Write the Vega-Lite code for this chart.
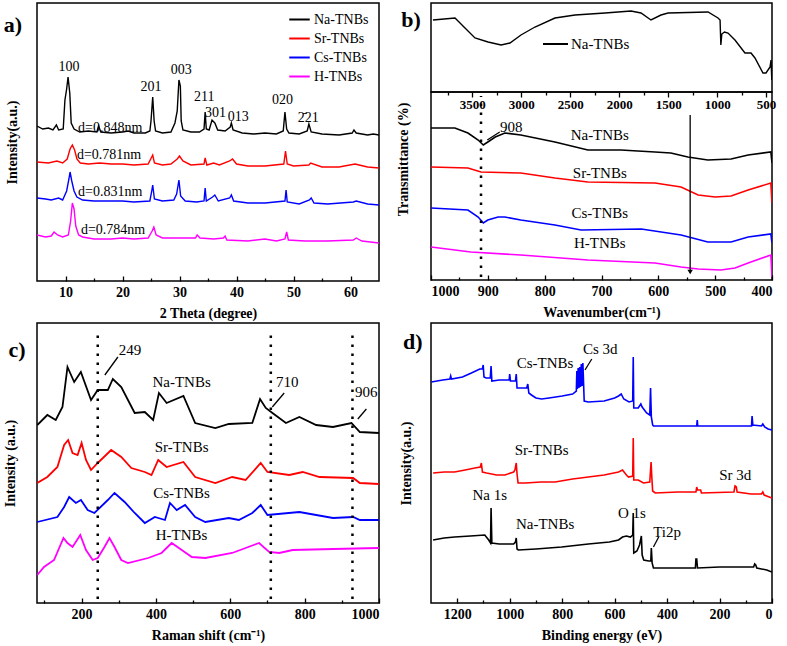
{
"$schema":"https://vega.github.io/schema/vega-lite/v6.json",
"padding":{"left":2,"top":2,"right":5,"bottom":5},
"background":"white",
"config":{
 "view":{"stroke":"black","strokeWidth":1.5},
 "font":"Liberation Serif",
 "axis":{"grid":false,"domain":false,"format":"d","labelFont":"Liberation Serif","labelFontSize":14,"labelFontWeight":"bold","labelColor":"black","titleFont":"Liberation Serif","titleFontSize":14,"titleFontWeight":"bold","titleColor":"black","tickColor":"black","tickWidth":1.3},
 "axisX":{"tickSize":-5,"labelPadding":9,"titlePadding":7},
 "axisY":{"labels":false,"ticks":false,"titlePadding":18},
 "text":{"font":"Liberation Serif","fontSize":14,"color":"black"},
 "legend":{"padding":0,"labelFont":"Liberation Serif","labelFontSize":14,"labelColor":"black"}
},
"datasets":{
"xrd":[
{"x":5,"y":155,"s":"Na-TNBs"},{"x":6,"y":152,"s":"Na-TNBs"},{"x":7,"y":153,"s":"Na-TNBs"},{"x":7.8,"y":151,"s":"Na-TNBs"},{"x":8.4,"y":156,"s":"Na-TNBs"},{"x":8.8,"y":151,"s":"Na-TNBs"},{"x":9.6,"y":152,"s":"Na-TNBs"},{"x":9.9,"y":181,"s":"Na-TNBs"},{"x":10.2,"y":192,"s":"Na-TNBs"},{"x":10.45,"y":204,"s":"Na-TNBs"},{"x":10.75,"y":188,"s":"Na-TNBs"},{"x":11.0,"y":158,"s":"Na-TNBs"},{"x":11.5,"y":152,"s":"Na-TNBs"},{"x":12.5,"y":149,"s":"Na-TNBs"},{"x":14,"y":150,"s":"Na-TNBs"},{"x":15.5,"y":149,"s":"Na-TNBs"},{"x":15.8,"y":155,"s":"Na-TNBs"},{"x":16.2,"y":149,"s":"Na-TNBs"},{"x":18,"y":148,"s":"Na-TNBs"},{"x":20,"y":149,"s":"Na-TNBs"},{"x":21,"y":150,"s":"Na-TNBs"},{"x":22,"y":148,"s":"Na-TNBs"},{"x":24,"y":148,"s":"Na-TNBs"},{"x":24.8,"y":150,"s":"Na-TNBs"},{"x":25.0,"y":160,"s":"Na-TNBs"},{"x":25.3,"y":184,"s":"Na-TNBs"},{"x":25.55,"y":160,"s":"Na-TNBs"},{"x":25.8,"y":150,"s":"Na-TNBs"},{"x":27,"y":148,"s":"Na-TNBs"},{"x":28.5,"y":149,"s":"Na-TNBs"},{"x":29.2,"y":158,"s":"Na-TNBs"},{"x":29.6,"y":170,"s":"Na-TNBs"},{"x":29.9,"y":201,"s":"Na-TNBs"},{"x":30.15,"y":195,"s":"Na-TNBs"},{"x":30.3,"y":160,"s":"Na-TNBs"},{"x":30.6,"y":151,"s":"Na-TNBs"},{"x":32,"y":149,"s":"Na-TNBs"},{"x":33.5,"y":149,"s":"Na-TNBs"},{"x":34.3,"y":152,"s":"Na-TNBs"},{"x":34.5,"y":169,"s":"Na-TNBs"},{"x":34.7,"y":152,"s":"Na-TNBs"},{"x":35.2,"y":151,"s":"Na-TNBs"},{"x":35.7,"y":161,"s":"Na-TNBs"},{"x":36.2,"y":158,"s":"Na-TNBs"},{"x":36.7,"y":151,"s":"Na-TNBs"},{"x":38,"y":150,"s":"Na-TNBs"},{"x":38.9,"y":154,"s":"Na-TNBs"},{"x":39.1,"y":158,"s":"Na-TNBs"},{"x":39.4,"y":151,"s":"Na-TNBs"},{"x":41,"y":148,"s":"Na-TNBs"},{"x":43,"y":147,"s":"Na-TNBs"},{"x":45,"y":148,"s":"Na-TNBs"},{"x":47,"y":147,"s":"Na-TNBs"},{"x":48.2,"y":150,"s":"Na-TNBs"},{"x":48.5,"y":169,"s":"Na-TNBs"},{"x":48.8,"y":152,"s":"Na-TNBs"},{"x":49.2,"y":148,"s":"Na-TNBs"},{"x":51,"y":147,"s":"Na-TNBs"},{"x":52.4,"y":150,"s":"Na-TNBs"},{"x":52.7,"y":157,"s":"Na-TNBs"},{"x":53.1,"y":149,"s":"Na-TNBs"},{"x":55,"y":147,"s":"Na-TNBs"},{"x":58,"y":146,"s":"Na-TNBs"},{"x":60.3,"y":148,"s":"Na-TNBs"},{"x":60.6,"y":151,"s":"Na-TNBs"},{"x":61,"y":148,"s":"Na-TNBs"},{"x":63,"y":146,"s":"Na-TNBs"},{"x":64,"y":147,"s":"Na-TNBs"},{"x":65,"y":146,"s":"Na-TNBs"},
{"x":5,"y":119,"s":"Sr-TNBs"},{"x":7,"y":118,"s":"Sr-TNBs"},{"x":8.5,"y":120,"s":"Sr-TNBs"},{"x":9.5,"y":118,"s":"Sr-TNBs"},{"x":10.3,"y":122,"s":"Sr-TNBs"},{"x":10.8,"y":132,"s":"Sr-TNBs"},{"x":11.2,"y":136,"s":"Sr-TNBs"},{"x":11.6,"y":131,"s":"Sr-TNBs"},{"x":12.0,"y":122,"s":"Sr-TNBs"},{"x":12.6,"y":118,"s":"Sr-TNBs"},{"x":14,"y":117,"s":"Sr-TNBs"},{"x":16,"y":118,"s":"Sr-TNBs"},{"x":18,"y":117,"s":"Sr-TNBs"},{"x":20,"y":117,"s":"Sr-TNBs"},{"x":22,"y":116,"s":"Sr-TNBs"},{"x":24.5,"y":117,"s":"Sr-TNBs"},{"x":25.3,"y":126,"s":"Sr-TNBs"},{"x":25.6,"y":118,"s":"Sr-TNBs"},{"x":27,"y":116,"s":"Sr-TNBs"},{"x":28.5,"y":117,"s":"Sr-TNBs"},{"x":29.6,"y":122,"s":"Sr-TNBs"},{"x":30.0,"y":125,"s":"Sr-TNBs"},{"x":30.6,"y":120,"s":"Sr-TNBs"},{"x":32,"y":116,"s":"Sr-TNBs"},{"x":34.3,"y":117,"s":"Sr-TNBs"},{"x":34.5,"y":123,"s":"Sr-TNBs"},{"x":34.8,"y":116,"s":"Sr-TNBs"},{"x":36,"y":118,"s":"Sr-TNBs"},{"x":37,"y":116,"s":"Sr-TNBs"},{"x":38.8,"y":120,"s":"Sr-TNBs"},{"x":39.3,"y":122,"s":"Sr-TNBs"},{"x":40,"y":117,"s":"Sr-TNBs"},{"x":42,"y":115,"s":"Sr-TNBs"},{"x":45,"y":115,"s":"Sr-TNBs"},{"x":48.3,"y":117,"s":"Sr-TNBs"},{"x":48.6,"y":130,"s":"Sr-TNBs"},{"x":48.9,"y":117,"s":"Sr-TNBs"},{"x":50,"y":115,"s":"Sr-TNBs"},{"x":52.7,"y":116,"s":"Sr-TNBs"},{"x":53,"y":118,"s":"Sr-TNBs"},{"x":55,"y":114,"s":"Sr-TNBs"},{"x":58,"y":114,"s":"Sr-TNBs"},{"x":60.8,"y":117,"s":"Sr-TNBs"},{"x":61.5,"y":116,"s":"Sr-TNBs"},{"x":63,"y":114,"s":"Sr-TNBs"},{"x":65,"y":113,"s":"Sr-TNBs"},
{"x":5,"y":83,"s":"Cs-TNBs"},{"x":6.5,"y":82,"s":"Cs-TNBs"},{"x":7.5,"y":81,"s":"Cs-TNBs"},{"x":8.8,"y":83,"s":"Cs-TNBs"},{"x":9.5,"y":81,"s":"Cs-TNBs"},{"x":10.2,"y":90,"s":"Cs-TNBs"},{"x":10.6,"y":102,"s":"Cs-TNBs"},{"x":10.8,"y":109,"s":"Cs-TNBs"},{"x":11.1,"y":100,"s":"Cs-TNBs"},{"x":11.5,"y":90,"s":"Cs-TNBs"},{"x":12,"y":84,"s":"Cs-TNBs"},{"x":13,"y":81,"s":"Cs-TNBs"},{"x":15,"y":80,"s":"Cs-TNBs"},{"x":18,"y":80,"s":"Cs-TNBs"},{"x":20,"y":80,"s":"Cs-TNBs"},{"x":22,"y":79,"s":"Cs-TNBs"},{"x":24.8,"y":80,"s":"Cs-TNBs"},{"x":25.1,"y":89,"s":"Cs-TNBs"},{"x":25.3,"y":96,"s":"Cs-TNBs"},{"x":25.6,"y":82,"s":"Cs-TNBs"},{"x":27,"y":80,"s":"Cs-TNBs"},{"x":29,"y":81,"s":"Cs-TNBs"},{"x":29.5,"y":87,"s":"Cs-TNBs"},{"x":29.9,"y":101,"s":"Cs-TNBs"},{"x":30.2,"y":85,"s":"Cs-TNBs"},{"x":31,"y":80,"s":"Cs-TNBs"},{"x":33,"y":79,"s":"Cs-TNBs"},{"x":34.3,"y":80,"s":"Cs-TNBs"},{"x":34.5,"y":93,"s":"Cs-TNBs"},{"x":34.7,"y":80,"s":"Cs-TNBs"},{"x":35.8,"y":84,"s":"Cs-TNBs"},{"x":36.2,"y":86,"s":"Cs-TNBs"},{"x":36.8,"y":80,"s":"Cs-TNBs"},{"x":38.8,"y":83,"s":"Cs-TNBs"},{"x":39.1,"y":86,"s":"Cs-TNBs"},{"x":39.5,"y":80,"s":"Cs-TNBs"},{"x":42,"y":78,"s":"Cs-TNBs"},{"x":45,"y":78,"s":"Cs-TNBs"},{"x":48.5,"y":80,"s":"Cs-TNBs"},{"x":48.7,"y":91,"s":"Cs-TNBs"},{"x":48.9,"y":79,"s":"Cs-TNBs"},{"x":51,"y":77,"s":"Cs-TNBs"},{"x":52.8,"y":81,"s":"Cs-TNBs"},{"x":53.1,"y":83,"s":"Cs-TNBs"},{"x":53.6,"y":78,"s":"Cs-TNBs"},{"x":56,"y":77,"s":"Cs-TNBs"},{"x":60.5,"y":79,"s":"Cs-TNBs"},{"x":61,"y":80,"s":"Cs-TNBs"},{"x":63,"y":77,"s":"Cs-TNBs"},{"x":65,"y":76,"s":"Cs-TNBs"},
{"x":5,"y":46,"s":"H-TNBs"},{"x":6.5,"y":44,"s":"H-TNBs"},{"x":7.5,"y":45,"s":"H-TNBs"},{"x":8.0,"y":49,"s":"H-TNBs"},{"x":8.6,"y":46,"s":"H-TNBs"},{"x":9.5,"y":44,"s":"H-TNBs"},{"x":10.5,"y":46,"s":"H-TNBs"},{"x":10.9,"y":60,"s":"H-TNBs"},{"x":11.2,"y":78,"s":"H-TNBs"},{"x":11.5,"y":72,"s":"H-TNBs"},{"x":11.8,"y":55,"s":"H-TNBs"},{"x":12.3,"y":46,"s":"H-TNBs"},{"x":13,"y":44,"s":"H-TNBs"},{"x":15,"y":42,"s":"H-TNBs"},{"x":18,"y":42,"s":"H-TNBs"},{"x":20,"y":43,"s":"H-TNBs"},{"x":22,"y":42,"s":"H-TNBs"},{"x":24.5,"y":43,"s":"H-TNBs"},{"x":25.2,"y":50,"s":"H-TNBs"},{"x":25.5,"y":54,"s":"H-TNBs"},{"x":25.9,"y":46,"s":"H-TNBs"},{"x":27,"y":43,"s":"H-TNBs"},{"x":30,"y":43,"s":"H-TNBs"},{"x":32.8,"y":43,"s":"H-TNBs"},{"x":33.1,"y":46,"s":"H-TNBs"},{"x":33.6,"y":43,"s":"H-TNBs"},{"x":36,"y":42,"s":"H-TNBs"},{"x":37.7,"y":43,"s":"H-TNBs"},{"x":38,"y":45,"s":"H-TNBs"},{"x":38.3,"y":41,"s":"H-TNBs"},{"x":42,"y":40,"s":"H-TNBs"},{"x":45,"y":42,"s":"H-TNBs"},{"x":47,"y":40,"s":"H-TNBs"},{"x":48.5,"y":42,"s":"H-TNBs"},{"x":48.8,"y":49,"s":"H-TNBs"},{"x":49.1,"y":41,"s":"H-TNBs"},{"x":52,"y":40,"s":"H-TNBs"},{"x":56,"y":40,"s":"H-TNBs"},{"x":60.5,"y":41,"s":"H-TNBs"},{"x":61,"y":43,"s":"H-TNBs"},{"x":62,"y":40,"s":"H-TNBs"},{"x":65,"y":38,"s":"H-TNBs"}
],
"xrd_txt":[
{"x":10.62,"y":214,"t":"100","k":"c"},{"x":25.0,"y":194,"t":"201","k":"c"},{"x":30.3,"y":211,"t":"003","k":"c"},{"x":34.35,"y":184,"t":"211","k":"c"},{"x":36.3,"y":168,"t":"301","k":"c"},{"x":40.3,"y":164,"t":"013","k":"c"},{"x":48.06,"y":181,"t":"020","k":"c"},{"x":52.6,"y":163,"t":"2̄21","k":"c"},
{"x":12.2,"y":153,"t":"d=0.848nm","k":"l"},{"x":12.0,"y":126,"t":"d=0.781nm","k":"l"},{"x":12.2,"y":89,"t":"d=0.831nm","k":"l"},{"x":12.7,"y":51,"t":"d=0.784nm","k":"l"},
{"x":0.78,"y":256,"t":"a)","k":"p"}
],
"ftir_inset":[
{"x":3900,"y":72},{"x":3675,"y":74},{"x":3573,"y":64},{"x":3471,"y":54},{"x":3338,"y":50},{"x":3205,"y":47},{"x":3114,"y":49},{"x":3002,"y":57},{"x":2859,"y":65},{"x":2655,"y":74},{"x":2450,"y":77},{"x":2144,"y":79},{"x":1879,"y":81},{"x":1777,"y":79},{"x":1675,"y":72},{"x":1573,"y":77},{"x":1501,"y":79},{"x":1093,"y":80},{"x":991,"y":74},{"x":970,"y":72},{"x":962,"y":47},{"x":952,"y":58},{"x":925,"y":60},{"x":889,"y":59},{"x":818,"y":52},{"x":716,"y":39},{"x":654,"y":39},{"x":614,"y":34},{"x":532,"y":19},{"x":501,"y":19},{"x":460,"y":25},{"x":450,"y":32},{"x":442,"y":12}
],
"ftir_inset_txt":[{"x":4124,"y":72,"t":"b)","k":"p"},{"x":2491,"y":48,"t":"Na-TNBs","k":"l"}],
"ftir_inset_lines":[{"x":2777,"y":48,"x2":2522,"y2":48}],
"ftir":[
{"x":1000,"y":152,"s":"Na-TNBs"},{"x":958,"y":152,"s":"Na-TNBs"},{"x":935,"y":147,"s":"Na-TNBs"},{"x":917,"y":140,"s":"Na-TNBs"},{"x":908,"y":135,"s":"Na-TNBs"},{"x":900,"y":138,"s":"Na-TNBs"},{"x":887,"y":143,"s":"Na-TNBs"},{"x":870,"y":147,"s":"Na-TNBs"},{"x":842,"y":145,"s":"Na-TNBs"},{"x":782,"y":138,"s":"Na-TNBs"},{"x":724,"y":130,"s":"Na-TNBs"},{"x":666,"y":130,"s":"Na-TNBs"},{"x":606,"y":128,"s":"Na-TNBs"},{"x":578,"y":127,"s":"Na-TNBs"},{"x":548,"y":123,"s":"Na-TNBs"},{"x":513,"y":120,"s":"Na-TNBs"},{"x":472,"y":121,"s":"Na-TNBs"},{"x":442,"y":125,"s":"Na-TNBs"},{"x":402,"y":128,"s":"Na-TNBs"},{"x":400,"y":117,"s":"Na-TNBs"},
{"x":1000,"y":113,"s":"Sr-TNBs"},{"x":935,"y":112,"s":"Sr-TNBs"},{"x":912,"y":108,"s":"Sr-TNBs"},{"x":842,"y":107,"s":"Sr-TNBs"},{"x":782,"y":102,"s":"Sr-TNBs"},{"x":724,"y":98,"s":"Sr-TNBs"},{"x":606,"y":97,"s":"Sr-TNBs"},{"x":560,"y":93,"s":"Sr-TNBs"},{"x":530,"y":85,"s":"Sr-TNBs"},{"x":500,"y":83,"s":"Sr-TNBs"},{"x":472,"y":84,"s":"Sr-TNBs"},{"x":442,"y":90,"s":"Sr-TNBs"},{"x":402,"y":97,"s":"Sr-TNBs"},{"x":400,"y":77,"s":"Sr-TNBs"},
{"x":1000,"y":72,"s":"Cs-TNBs"},{"x":935,"y":70,"s":"Cs-TNBs"},{"x":917,"y":63,"s":"Cs-TNBs"},{"x":908,"y":57,"s":"Cs-TNBs"},{"x":900,"y":60,"s":"Cs-TNBs"},{"x":882,"y":63,"s":"Cs-TNBs"},{"x":870,"y":63,"s":"Cs-TNBs"},{"x":842,"y":60,"s":"Cs-TNBs"},{"x":782,"y":55,"s":"Cs-TNBs"},{"x":736,"y":50,"s":"Cs-TNBs"},{"x":630,"y":51,"s":"Cs-TNBs"},{"x":560,"y":45,"s":"Cs-TNBs"},{"x":513,"y":38,"s":"Cs-TNBs"},{"x":472,"y":38,"s":"Cs-TNBs"},{"x":442,"y":43,"s":"Cs-TNBs"},{"x":402,"y":46,"s":"Cs-TNBs"},{"x":400,"y":37,"s":"Cs-TNBs"},
{"x":1000,"y":33,"s":"H-TNBs"},{"x":930,"y":28,"s":"H-TNBs"},{"x":842,"y":25,"s":"H-TNBs"},{"x":724,"y":20,"s":"H-TNBs"},{"x":606,"y":17,"s":"H-TNBs"},{"x":560,"y":13,"s":"H-TNBs"},{"x":530,"y":11,"s":"H-TNBs"},{"x":490,"y":10,"s":"H-TNBs"},{"x":465,"y":12,"s":"H-TNBs"},{"x":442,"y":17,"s":"H-TNBs"},{"x":402,"y":25,"s":"H-TNBs"},{"x":400,"y":3,"s":"H-TNBs"}
],
"ftir_txt":[{"x":859,"y":153,"t":"908"},{"x":703,"y":145,"t":"Na-TNBs"},{"x":703,"y":107,"t":"Sr-TNBs"},{"x":703,"y":67,"t":"Cs-TNBs"},{"x":703,"y":37,"t":"H-TNBs"}],
"ftir_lines":[{"x":912,"y":3,"x2":912,"y2":184,"k":"dot"},{"x":544,"y":165,"x2":544,"y2":8,"k":"arrow"},{"x":901,"y":140,"x2":879,"y2":148,"k":"arrow"}],
"ftir_pts":[{"x":544,"y":8}],
"raman":[
{"x":80.7,"y":178,"s":"Na-TNBs"},{"x":107.8,"y":188,"s":"Na-TNBs"},{"x":130.4,"y":183,"s":"Na-TNBs"},{"x":148.5,"y":196,"s":"Na-TNBs"},{"x":162,"y":236,"s":"Na-TNBs"},{"x":180,"y":221,"s":"Na-TNBs"},{"x":198,"y":231,"s":"Na-TNBs"},{"x":225.3,"y":203,"s":"Na-TNBs"},{"x":243.4,"y":213,"s":"Na-TNBs"},{"x":270.5,"y":213,"s":"Na-TNBs"},{"x":284,"y":224,"s":"Na-TNBs"},{"x":306.7,"y":216,"s":"Na-TNBs"},{"x":342.8,"y":190,"s":"Na-TNBs"},{"x":370,"y":191,"s":"Na-TNBs"},{"x":392.5,"y":183,"s":"Na-TNBs"},{"x":408,"y":210,"s":"Na-TNBs"},{"x":428.7,"y":200,"s":"Na-TNBs"},{"x":473.9,"y":207,"s":"Na-TNBs"},{"x":505.5,"y":180,"s":"Na-TNBs"},{"x":559.8,"y":175,"s":"Na-TNBs"},{"x":595.9,"y":179,"s":"Na-TNBs"},{"x":659.2,"y":180,"s":"Na-TNBs"},{"x":680,"y":204,"s":"Na-TNBs"},{"x":695.4,"y":195,"s":"Na-TNBs"},{"x":713.4,"y":190,"s":"Na-TNBs"},{"x":749.6,"y":180,"s":"Na-TNBs"},{"x":785.8,"y":186,"s":"Na-TNBs"},{"x":831,"y":178,"s":"Na-TNBs"},{"x":876.2,"y":176,"s":"Na-TNBs"},{"x":925.9,"y":180,"s":"Na-TNBs"},{"x":948.5,"y":171,"s":"Na-TNBs"},{"x":1000,"y":170,"s":"Na-TNBs"},
{"x":80.7,"y":120,"s":"Sr-TNBs"},{"x":107.8,"y":126,"s":"Sr-TNBs"},{"x":134.9,"y":136,"s":"Sr-TNBs"},{"x":153,"y":158,"s":"Sr-TNBs"},{"x":163.8,"y":163,"s":"Sr-TNBs"},{"x":175.6,"y":150,"s":"Sr-TNBs"},{"x":189.2,"y":148,"s":"Sr-TNBs"},{"x":200,"y":160,"s":"Sr-TNBs"},{"x":211.8,"y":143,"s":"Sr-TNBs"},{"x":225.3,"y":133,"s":"Sr-TNBs"},{"x":243.4,"y":140,"s":"Sr-TNBs"},{"x":279.5,"y":153,"s":"Sr-TNBs"},{"x":306.7,"y":146,"s":"Sr-TNBs"},{"x":333.8,"y":135,"s":"Sr-TNBs"},{"x":370,"y":131,"s":"Sr-TNBs"},{"x":388,"y":128,"s":"Sr-TNBs"},{"x":406.1,"y":143,"s":"Sr-TNBs"},{"x":428.7,"y":136,"s":"Sr-TNBs"},{"x":473.9,"y":141,"s":"Sr-TNBs"},{"x":505.5,"y":126,"s":"Sr-TNBs"},{"x":559.8,"y":120,"s":"Sr-TNBs"},{"x":605,"y":126,"s":"Sr-TNBs"},{"x":641.1,"y":123,"s":"Sr-TNBs"},{"x":681.8,"y":140,"s":"Sr-TNBs"},{"x":699.9,"y":131,"s":"Sr-TNBs"},{"x":758.6,"y":128,"s":"Sr-TNBs"},{"x":794.8,"y":131,"s":"Sr-TNBs"},{"x":840,"y":126,"s":"Sr-TNBs"},{"x":930.4,"y":125,"s":"Sr-TNBs"},{"x":948.5,"y":120,"s":"Sr-TNBs"},{"x":1000,"y":119,"s":"Sr-TNBs"},
{"x":80.7,"y":81,"s":"Cs-TNBs"},{"x":134.9,"y":86,"s":"Cs-TNBs"},{"x":153,"y":96,"s":"Cs-TNBs"},{"x":166.6,"y":106,"s":"Cs-TNBs"},{"x":184.6,"y":100,"s":"Cs-TNBs"},{"x":198.2,"y":103,"s":"Cs-TNBs"},{"x":216.3,"y":93,"s":"Cs-TNBs"},{"x":234.4,"y":90,"s":"Cs-TNBs"},{"x":270.5,"y":103,"s":"Cs-TNBs"},{"x":288.6,"y":110,"s":"Cs-TNBs"},{"x":315.7,"y":101,"s":"Cs-TNBs"},{"x":342.8,"y":90,"s":"Cs-TNBs"},{"x":370,"y":80,"s":"Cs-TNBs"},{"x":397,"y":86,"s":"Cs-TNBs"},{"x":424.2,"y":83,"s":"Cs-TNBs"},{"x":437.7,"y":100,"s":"Cs-TNBs"},{"x":455.8,"y":93,"s":"Cs-TNBs"},{"x":478.4,"y":98,"s":"Cs-TNBs"},{"x":505.5,"y":86,"s":"Cs-TNBs"},{"x":532.7,"y":81,"s":"Cs-TNBs"},{"x":595.9,"y":85,"s":"Cs-TNBs"},{"x":623,"y":83,"s":"Cs-TNBs"},{"x":659.2,"y":90,"s":"Cs-TNBs"},{"x":681.8,"y":98,"s":"Cs-TNBs"},{"x":699.9,"y":88,"s":"Cs-TNBs"},{"x":785.8,"y":91,"s":"Cs-TNBs"},{"x":876.2,"y":85,"s":"Cs-TNBs"},{"x":930.4,"y":86,"s":"Cs-TNBs"},{"x":948.5,"y":83,"s":"Cs-TNBs"},{"x":1000,"y":83,"s":"Cs-TNBs"},
{"x":80.7,"y":28,"s":"H-TNBs"},{"x":98.8,"y":36,"s":"H-TNBs"},{"x":125.9,"y":43,"s":"H-TNBs"},{"x":151.2,"y":65,"s":"H-TNBs"},{"x":162,"y":60,"s":"H-TNBs"},{"x":175.6,"y":56,"s":"H-TNBs"},{"x":196.4,"y":68,"s":"H-TNBs"},{"x":211.8,"y":53,"s":"H-TNBs"},{"x":229.8,"y":43,"s":"H-TNBs"},{"x":243.4,"y":45,"s":"H-TNBs"},{"x":261.5,"y":56,"s":"H-TNBs"},{"x":275,"y":65,"s":"H-TNBs"},{"x":288.6,"y":56,"s":"H-TNBs"},{"x":306.7,"y":43,"s":"H-TNBs"},{"x":324.7,"y":40,"s":"H-TNBs"},{"x":379,"y":45,"s":"H-TNBs"},{"x":415.1,"y":50,"s":"H-TNBs"},{"x":442.3,"y":60,"s":"H-TNBs"},{"x":469.4,"y":53,"s":"H-TNBs"},{"x":496.5,"y":46,"s":"H-TNBs"},{"x":532.7,"y":45,"s":"H-TNBs"},{"x":605,"y":50,"s":"H-TNBs"},{"x":641.1,"y":55,"s":"H-TNBs"},{"x":677.3,"y":60,"s":"H-TNBs"},{"x":704.4,"y":51,"s":"H-TNBs"},{"x":731.5,"y":50,"s":"H-TNBs"},{"x":767.7,"y":53,"s":"H-TNBs"},{"x":876.2,"y":54,"s":"H-TNBs"},{"x":1000,"y":55,"s":"H-TNBs"}
],
"raman_txt":[{"x":469,"y":221,"t":"Na-TNBs","k":"c"},{"x":469,"y":156,"t":"Sr-TNBs","k":"c"},{"x":469,"y":110,"t":"Cs-TNBs","k":"c"},{"x":469,"y":68,"t":"H-TNBs","k":"c"},{"x":330,"y":253,"t":"249","k":"c"},{"x":753,"y":221,"t":"710","k":"c"},{"x":966,"y":211,"t":"906","k":"c"},{"x":26,"y":253,"t":"c)","k":"p"}],
"raman_lines":[{"x":243.4,"y":4,"x2":243.4,"y2":273,"k":"dot"},{"x":709,"y":4,"x2":709,"y2":273,"k":"dot"},{"x":928.6,"y":4,"x2":928.6,"y2":273,"k":"dot"},{"x":262.5,"y":228,"x2":297.6,"y2":246,"k":"arrow"},{"x":713,"y":196,"x2":745,"y2":210,"k":"arrow"},{"x":943,"y":184,"x2":966,"y2":194,"k":"arrow"}],
"xps":[
{"x":1299,"y":221,"s":"Cs-TNBs"},{"x":1255,"y":223,"s":"Cs-TNBs"},{"x":1228,"y":224,"s":"Cs-TNBs"},{"x":1225,"y":227,"s":"Cs-TNBs"},{"x":1222,"y":224,"s":"Cs-TNBs"},{"x":1180,"y":226,"s":"Cs-TNBs"},{"x":1146,"y":230,"s":"Cs-TNBs"},{"x":1114,"y":234,"s":"Cs-TNBs"},{"x":1104,"y":234,"s":"Cs-TNBs"},{"x":1101,"y":238,"s":"Cs-TNBs"},{"x":1098,"y":226,"s":"Cs-TNBs"},{"x":1090,"y":225,"s":"Cs-TNBs"},{"x":1074,"y":225,"s":"Cs-TNBs"},{"x":1071,"y":237,"s":"Cs-TNBs"},{"x":1068,"y":222,"s":"Cs-TNBs"},{"x":1040,"y":223,"s":"Cs-TNBs"},{"x":1002,"y":223,"s":"Cs-TNBs"},{"x":1000,"y":229,"s":"Cs-TNBs"},{"x":997,"y":222,"s":"Cs-TNBs"},{"x":978,"y":222,"s":"Cs-TNBs"},{"x":975,"y":229,"s":"Cs-TNBs"},{"x":972,"y":215,"s":"Cs-TNBs"},{"x":935,"y":215,"s":"Cs-TNBs"},{"x":931,"y":219,"s":"Cs-TNBs"},{"x":927,"y":210,"s":"Cs-TNBs"},{"x":917,"y":208,"s":"Cs-TNBs"},{"x":900,"y":205,"s":"Cs-TNBs"},{"x":878,"y":204,"s":"Cs-TNBs"},{"x":850,"y":205,"s":"Cs-TNBs"},{"x":800,"y":207,"s":"Cs-TNBs"},{"x":760,"y":209,"s":"Cs-TNBs"},{"x":746,"y":212,"s":"Cs-TNBs"},{"x":744,"y":232,"s":"Cs-TNBs"},{"x":742,"y":214,"s":"Cs-TNBs"},{"x":739,"y":235,"s":"Cs-TNBs"},{"x":736,"y":215,"s":"Cs-TNBs"},{"x":733,"y":236,"s":"Cs-TNBs"},{"x":730,"y":216,"s":"Cs-TNBs"},{"x":727,"y":239,"s":"Cs-TNBs"},{"x":724,"y":217,"s":"Cs-TNBs"},{"x":721,"y":240,"s":"Cs-TNBs"},{"x":716,"y":202,"s":"Cs-TNBs"},{"x":700,"y":201,"s":"Cs-TNBs"},{"x":640,"y":202,"s":"Cs-TNBs"},{"x":600,"y":205,"s":"Cs-TNBs"},{"x":585,"y":207,"s":"Cs-TNBs"},{"x":575,"y":209,"s":"Cs-TNBs"},{"x":565,"y":204,"s":"Cs-TNBs"},{"x":545,"y":201,"s":"Cs-TNBs"},{"x":531,"y":202,"s":"Cs-TNBs"},{"x":529,"y":246,"s":"Cs-TNBs"},{"x":527,"y":195,"s":"Cs-TNBs"},{"x":510,"y":195,"s":"Cs-TNBs"},{"x":500,"y":199,"s":"Cs-TNBs"},{"x":495,"y":196,"s":"Cs-TNBs"},{"x":478,"y":190,"s":"Cs-TNBs"},{"x":466,"y":188,"s":"Cs-TNBs"},{"x":463,"y":215,"s":"Cs-TNBs"},{"x":460,"y":186,"s":"Cs-TNBs"},{"x":455,"y":178,"s":"Cs-TNBs"},{"x":452,"y":177,"s":"Cs-TNBs"},{"x":287,"y":177,"s":"Cs-TNBs"},{"x":285,"y":183,"s":"Cs-TNBs"},{"x":283,"y":177,"s":"Cs-TNBs"},{"x":78,"y":177,"s":"Cs-TNBs"},{"x":76,"y":187,"s":"Cs-TNBs"},{"x":73,"y":178,"s":"Cs-TNBs"},{"x":40,"y":177,"s":"Cs-TNBs"},{"x":35,"y":179,"s":"Cs-TNBs"},{"x":28,"y":176,"s":"Cs-TNBs"},{"x":15,"y":174,"s":"Cs-TNBs"},{"x":0,"y":173,"s":"Cs-TNBs"},
{"x":1292,"y":130,"s":"Sr-TNBs"},{"x":1250,"y":131,"s":"Sr-TNBs"},{"x":1210,"y":131,"s":"Sr-TNBs"},{"x":1170,"y":133,"s":"Sr-TNBs"},{"x":1133,"y":135,"s":"Sr-TNBs"},{"x":1112,"y":136,"s":"Sr-TNBs"},{"x":1108,"y":140,"s":"Sr-TNBs"},{"x":1104,"y":131,"s":"Sr-TNBs"},{"x":1088,"y":130,"s":"Sr-TNBs"},{"x":1050,"y":128,"s":"Sr-TNBs"},{"x":1018,"y":128,"s":"Sr-TNBs"},{"x":985,"y":131,"s":"Sr-TNBs"},{"x":980,"y":133,"s":"Sr-TNBs"},{"x":975,"y":140,"s":"Sr-TNBs"},{"x":972,"y":129,"s":"Sr-TNBs"},{"x":968,"y":120,"s":"Sr-TNBs"},{"x":940,"y":120,"s":"Sr-TNBs"},{"x":880,"y":121,"s":"Sr-TNBs"},{"x":827,"y":121,"s":"Sr-TNBs"},{"x":760,"y":124,"s":"Sr-TNBs"},{"x":700,"y":126,"s":"Sr-TNBs"},{"x":640,"y":128,"s":"Sr-TNBs"},{"x":585,"y":131,"s":"Sr-TNBs"},{"x":570,"y":133,"s":"Sr-TNBs"},{"x":555,"y":128,"s":"Sr-TNBs"},{"x":547,"y":126,"s":"Sr-TNBs"},{"x":531,"y":127,"s":"Sr-TNBs"},{"x":529,"y":165,"s":"Sr-TNBs"},{"x":527,"y":123,"s":"Sr-TNBs"},{"x":510,"y":123,"s":"Sr-TNBs"},{"x":490,"y":120,"s":"Sr-TNBs"},{"x":466,"y":121,"s":"Sr-TNBs"},{"x":461,"y":141,"s":"Sr-TNBs"},{"x":458,"y":125,"s":"Sr-TNBs"},{"x":455,"y":112,"s":"Sr-TNBs"},{"x":445,"y":110,"s":"Sr-TNBs"},{"x":360,"y":111,"s":"Sr-TNBs"},{"x":290,"y":111,"s":"Sr-TNBs"},{"x":287,"y":116,"s":"Sr-TNBs"},{"x":284,"y":113,"s":"Sr-TNBs"},{"x":272,"y":113,"s":"Sr-TNBs"},{"x":269,"y":110,"s":"Sr-TNBs"},{"x":145,"y":111,"s":"Sr-TNBs"},{"x":141,"y":117,"s":"Sr-TNBs"},{"x":136,"y":116,"s":"Sr-TNBs"},{"x":133,"y":111,"s":"Sr-TNBs"},{"x":80,"y":109,"s":"Sr-TNBs"},{"x":40,"y":109,"s":"Sr-TNBs"},{"x":35,"y":111,"s":"Sr-TNBs"},{"x":30,"y":108,"s":"Sr-TNBs"},{"x":0,"y":105,"s":"Sr-TNBs"},
{"x":1292,"y":63,"s":"Na-TNBs"},{"x":1250,"y":65,"s":"Na-TNBs"},{"x":1210,"y":66,"s":"Na-TNBs"},{"x":1150,"y":67,"s":"Na-TNBs"},{"x":1095,"y":68,"s":"Na-TNBs"},{"x":1080,"y":63,"s":"Na-TNBs"},{"x":1073,"y":60,"s":"Na-TNBs"},{"x":1071,"y":95,"s":"Na-TNBs"},{"x":1068,"y":60,"s":"Na-TNBs"},{"x":1040,"y":59,"s":"Na-TNBs"},{"x":985,"y":59,"s":"Na-TNBs"},{"x":978,"y":61,"s":"Na-TNBs"},{"x":975,"y":65,"s":"Na-TNBs"},{"x":972,"y":54,"s":"Na-TNBs"},{"x":967,"y":53,"s":"Na-TNBs"},{"x":900,"y":54,"s":"Na-TNBs"},{"x":802,"y":56,"s":"Na-TNBs"},{"x":700,"y":59,"s":"Na-TNBs"},{"x":620,"y":61,"s":"Na-TNBs"},{"x":585,"y":63,"s":"Na-TNBs"},{"x":570,"y":66,"s":"Na-TNBs"},{"x":555,"y":67,"s":"Na-TNBs"},{"x":540,"y":66,"s":"Na-TNBs"},{"x":531,"y":68,"s":"Na-TNBs"},{"x":529,"y":90,"s":"Na-TNBs"},{"x":527,"y":50,"s":"Na-TNBs"},{"x":515,"y":52,"s":"Na-TNBs"},{"x":505,"y":58,"s":"Na-TNBs"},{"x":498,"y":67,"s":"Na-TNBs"},{"x":495,"y":48,"s":"Na-TNBs"},{"x":489,"y":43,"s":"Na-TNBs"},{"x":470,"y":42,"s":"Na-TNBs"},{"x":462,"y":42,"s":"Na-TNBs"},{"x":460,"y":55,"s":"Na-TNBs"},{"x":457,"y":40,"s":"Na-TNBs"},{"x":452,"y":35,"s":"Na-TNBs"},{"x":300,"y":35,"s":"Na-TNBs"},{"x":292,"y":35,"s":"Na-TNBs"},{"x":290,"y":44,"s":"Na-TNBs"},{"x":287,"y":44,"s":"Na-TNBs"},{"x":284,"y":35,"s":"Na-TNBs"},{"x":200,"y":36,"s":"Na-TNBs"},{"x":70,"y":36,"s":"Na-TNBs"},{"x":66,"y":39,"s":"Na-TNBs"},{"x":62,"y":38,"s":"Na-TNBs"},{"x":58,"y":35,"s":"Na-TNBs"},{"x":20,"y":33,"s":"Na-TNBs"},{"x":0,"y":31,"s":"Na-TNBs"}
],
"xps_txt":[{"x":865,"y":240,"t":"Cs-TNBs","k":"c"},{"x":655,"y":254,"t":"Cs 3d","k":"c"},{"x":878,"y":153,"t":"Sr-TNBs","k":"c"},{"x":140,"y":128,"t":"Sr 3d","k":"c"},{"x":1076,"y":108,"t":"Na 1s","k":"c"},{"x":865,"y":79,"t":"Na-TNBs","k":"c"},{"x":534,"y":90,"t":"O 1s","k":"c"},{"x":400,"y":71,"t":"Ti2p","k":"c"},{"x":1369,"y":261,"t":"d)","k":"p"}],
"xps_lines":[{"x":713,"y":233,"x2":687,"y2":244},{"x":452,"y":56,"x2":432,"y2":66}]
},
"columns":2,
"spacing":{"row":42,"column":52},
"bounds":"flush",
"resolve":{"legend":{"color":"independent"}},
"concat":[
{
 "width":342,"height":278,
 "resolve":{"axis":{"x":"independent"}},
 "layer":[
  {"data":{"name":"xrd"},"mark":{"type":"line","strokeWidth":1.4,"clip":true},
   "encoding":{
    "x":{"field":"x","type":"quantitative","scale":{"domain":[5,65],"nice":false,"zero":false},"axis":{"orient":"bottom","title":"2 Theta (degree)","values":[10,20,30,40,50,60]}},
    "y":{"field":"y","type":"quantitative","scale":{"domain":[0,278],"nice":false,"zero":false},"axis":{"title":"Intensity(a.u.)"}},
    "color":{"field":"s","type":"nominal","scale":{"domain":["Na-TNBs","Sr-TNBs","Cs-TNBs","H-TNBs"],"range":["#000000","#ff0000","#0000ff","#ff00ff"]},
     "legend":{"orient":"none","legendX":251,"legendY":5,"title":null,"symbolType":"stroke","symbolSize":420,"symbolStrokeWidth":2,"rowPadding":0,"labelOffset":3}}
   }},
  {"data":{"name":"xrd_txt"},"transform":[{"filter":"datum.k=='c'"}],"mark":{"type":"text","fontSize":14},
   "encoding":{"x":{"field":"x","type":"quantitative","axis":{"orient":"bottom","title":null,"labels":false,"tickSize":-3,"values":[15,25,35,45,55]}},"y":{"field":"y","type":"quantitative"},"text":{"field":"t"}}},
  {"data":{"name":"xrd_txt"},"transform":[{"filter":"datum.k=='l'"}],"mark":{"type":"text","fontSize":14,"align":"left"},
   "encoding":{"x":{"field":"x","type":"quantitative","axis":null},"y":{"field":"y","type":"quantitative"},"text":{"field":"t"}}},
  {"data":{"name":"xrd_txt"},"transform":[{"filter":"datum.k=='p'"}],"mark":{"type":"text","fontSize":22,"fontWeight":"bold"},
   "encoding":{"x":{"field":"x","type":"quantitative","axis":null},"y":{"field":"y","type":"quantitative"},"text":{"field":"t"}}}
 ]
},
{
 "vconcat":[
  {
   "width":341,"height":89,
   "resolve":{"axis":{"x":"independent"}},
   "layer":[
    {"data":{"name":"ftir_inset"},"mark":{"type":"line","strokeWidth":1.4,"color":"black","clip":true},
     "encoding":{
      "x":{"field":"x","type":"quantitative","scale":{"domain":[440,3920],"reverse":true,"nice":false,"zero":false},"axis":{"orient":"bottom","title":null,"values":[3500,3000,2500,2000,1500,1000,500],"tickSize":5,"labelPadding":1,"labelFontSize":13}},
      "y":{"field":"y","type":"quantitative","scale":{"domain":[0,89],"nice":false,"zero":false},"axis":null}
     }},
    {"data":{"name":"ftir_inset_lines"},"mark":{"type":"rule","strokeWidth":2,"color":"black"},
     "encoding":{"x":{"field":"x","type":"quantitative","axis":{"orient":"bottom","title":null,"labels":false,"tickSize":3,"values":[3750,3250,2750,2250,1750,1250,750]}},"y":{"field":"y","type":"quantitative"},"x2":{"field":"x2"},"y2":{"field":"y2"}}},
    {"data":{"name":"ftir_inset_txt"},"transform":[{"filter":"datum.k=='l'"}],"mark":{"type":"text","fontSize":15,"align":"left"},
     "encoding":{"x":{"field":"x","type":"quantitative","axis":null},"y":{"field":"y","type":"quantitative"},"text":{"field":"t"}}},
    {"data":{"name":"ftir_inset_txt"},"transform":[{"filter":"datum.k=='p'"}],"mark":{"type":"text","fontSize":22,"fontWeight":"bold"},
     "encoding":{"x":{"field":"x","type":"quantitative","axis":null},"y":{"field":"y","type":"quantitative"},"text":{"field":"t"}}}
   ]
  },
  {
   "width":341,"height":188,
   "resolve":{"axis":{"x":"independent"}},
   "layer":[
    {"data":{"name":"ftir"},"mark":{"type":"line","strokeWidth":1.6,"clip":true},
     "encoding":{
      "x":{"field":"x","type":"quantitative","scale":{"domain":[400,1000],"reverse":true,"nice":false,"zero":false},"axis":{"orient":"bottom","title":"Wavenumber(cm⁻¹)","values":[1000,900,800,700,600,500,400]}},
      "y":{"field":"y","type":"quantitative","scale":{"domain":[0,188],"nice":false,"zero":false},"axis":{"title":"Transmittance (%)","titleY":67,"titlePadding":21}},
      "color":{"field":"s","type":"nominal","scale":{"domain":["Na-TNBs","Sr-TNBs","Cs-TNBs","H-TNBs"],"range":["#000000","#ff0000","#0000ff","#ff00ff"]},"legend":null}
     }},
    {"data":{"name":"ftir_lines"},"transform":[{"filter":"datum.k=='dot'"}],"mark":{"type":"rule","strokeWidth":2.5,"strokeDash":[2.5,6.5],"color":"black"},
     "encoding":{"x":{"field":"x","type":"quantitative","axis":{"orient":"bottom","title":null,"labels":false,"tickSize":-3,"values":[950,850,750,650,550,450]}},"y":{"field":"y","type":"quantitative"},"x2":{"field":"x2"},"y2":{"field":"y2"}}},
    {"data":{"name":"ftir_lines"},"transform":[{"filter":"datum.k=='arrow'"}],"mark":{"type":"rule","strokeWidth":1.3,"color":"black"},
     "encoding":{"x":{"field":"x","type":"quantitative","axis":null},"y":{"field":"y","type":"quantitative"},"x2":{"field":"x2"},"y2":{"field":"y2"}}},
    {"data":{"name":"ftir_pts"},"mark":{"type":"point","shape":"triangle-down","filled":true,"size":30,"color":"black","opacity":1},
     "encoding":{"x":{"field":"x","type":"quantitative","axis":null},"y":{"field":"y","type":"quantitative"}}},
    {"data":{"name":"ftir_txt"},"mark":{"type":"text","fontSize":15},
     "encoding":{"x":{"field":"x","type":"quantitative","axis":null},"y":{"field":"y","type":"quantitative"},"text":{"field":"t"}}}
   ]
  }
 ],
 "spacing":0,
 "bounds":"flush",
 "resolve":{"legend":{"color":"independent"}}
},
{
 "width":342,"height":280,
 "resolve":{"axis":{"x":"independent"}},
 "layer":[
  {"data":{"name":"raman"},"mark":{"type":"line","strokeWidth":1.8,"clip":true},
   "encoding":{
    "x":{"field":"x","type":"quantitative","scale":{"domain":[80,1000],"nice":false,"zero":false},"axis":{"orient":"bottom","title":"Raman shift (cm⁻¹)","values":[200,400,600,800,1000]}},
    "y":{"field":"y","type":"quantitative","scale":{"domain":[0,280],"nice":false,"zero":false},"axis":{"title":"Intensity (a.u.)","titlePadding":20}},
    "color":{"field":"s","type":"nominal","scale":{"domain":["Na-TNBs","Sr-TNBs","Cs-TNBs","H-TNBs"],"range":["#000000","#ff0000","#0000ff","#ff00ff"]},"legend":null}
   }},
  {"data":{"name":"raman_lines"},"transform":[{"filter":"datum.k=='dot'"}],"mark":{"type":"rule","strokeWidth":2.5,"strokeDash":[2.5,6.5],"color":"black"},
   "encoding":{"x":{"field":"x","type":"quantitative","axis":{"orient":"bottom","title":null,"labels":false,"tickSize":-3,"values":[100,300,500,700,900]}},"y":{"field":"y","type":"quantitative"},"x2":{"field":"x2"},"y2":{"field":"y2"}}},
  {"data":{"name":"raman_lines"},"transform":[{"filter":"datum.k=='arrow'"}],"mark":{"type":"rule","strokeWidth":1.3,"color":"black"},
   "encoding":{"x":{"field":"x","type":"quantitative","axis":null},"y":{"field":"y","type":"quantitative"},"x2":{"field":"x2"},"y2":{"field":"y2"}}},
  {"data":{"name":"raman_txt"},"transform":[{"filter":"datum.k=='c'"}],"mark":{"type":"text","fontSize":15},
   "encoding":{"x":{"field":"x","type":"quantitative","axis":null},"y":{"field":"y","type":"quantitative"},"text":{"field":"t"}}},
  {"data":{"name":"raman_txt"},"transform":[{"filter":"datum.k=='p'"}],"mark":{"type":"text","fontSize":22,"fontWeight":"bold"},
   "encoding":{"x":{"field":"x","type":"quantitative","axis":null},"y":{"field":"y","type":"quantitative"},"text":{"field":"t"}}}
 ]
},
{
 "width":341,"height":280,
 "resolve":{"axis":{"x":"independent"}},
 "layer":[
  {"data":{"name":"xps"},"mark":{"type":"line","strokeWidth":1.6,"clip":true},
   "encoding":{
    "x":{"field":"x","type":"quantitative","scale":{"domain":[0,1300],"reverse":true,"nice":false,"zero":false},"axis":{"orient":"bottom","title":"Binding energy (eV)","values":[1200,1000,800,600,400,200,0]}},
    "y":{"field":"y","type":"quantitative","scale":{"domain":[0,280],"nice":false,"zero":false},"axis":{"title":"Intensity(a.u.)","titlePadding":18}},
    "color":{"field":"s","type":"nominal","scale":{"domain":["Na-TNBs","Sr-TNBs","Cs-TNBs","H-TNBs"],"range":["#000000","#ff0000","#0000ff","#ff00ff"]},"legend":null}
   }},
  {"data":{"name":"xps_lines"},"mark":{"type":"rule","strokeWidth":1.3,"color":"black"},
   "encoding":{"x":{"field":"x","type":"quantitative","axis":{"orient":"bottom","title":null,"labels":false,"tickSize":-3,"values":[1100,900,700,500,300,100]}},"y":{"field":"y","type":"quantitative"},"x2":{"field":"x2"},"y2":{"field":"y2"}}},
  {"data":{"name":"xps_txt"},"transform":[{"filter":"datum.k=='c'"}],"mark":{"type":"text","fontSize":15},
   "encoding":{"x":{"field":"x","type":"quantitative","axis":null},"y":{"field":"y","type":"quantitative"},"text":{"field":"t"}}},
  {"data":{"name":"xps_txt"},"transform":[{"filter":"datum.k=='p'"}],"mark":{"type":"text","fontSize":22,"fontWeight":"bold"},
   "encoding":{"x":{"field":"x","type":"quantitative","axis":null},"y":{"field":"y","type":"quantitative"},"text":{"field":"t"}}}
 ]
}
]
}
